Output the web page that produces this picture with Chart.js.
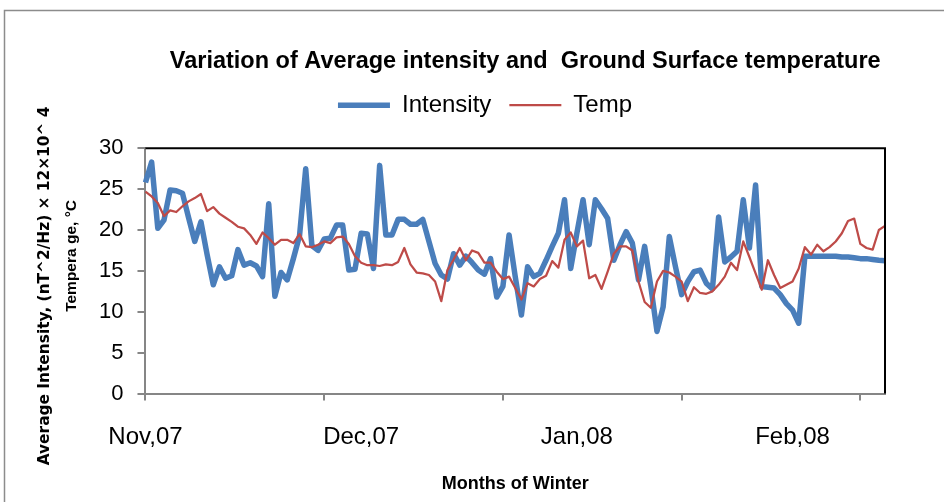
<!DOCTYPE html>
<html>
<head>
<meta charset="utf-8">
<script src="https://cdn.jsdelivr.net/npm/chart.js@4.4.0/dist/chart.umd.min.js"></script>
<style>
html, body { margin: 0; padding: 0; background: #fff; }
</style>
</head>
<body>
<canvas id="line-chart" width="944" height="502"></canvas>
<script>
// month names shown under the axis, one every labelEvery days
var monthLabels = ['Nov,07', 'Dec,07', 'Jan,08', 'Feb,08'];
var labelEvery = 35;
var tickEvery = 29;

var intensity = [25.8, 28.3, 20.2, 21.2, 24.9, 24.8, 24.5, 21.5, 18.6, 21.0,
                 17.0, 13.3, 15.5, 14.1, 14.4, 17.6, 15.7, 16.0, 15.6, 14.3,
                 23.2, 11.9, 14.8, 13.9, 16.5, 19.3, 27.5, 18.1, 17.5, 18.9,
                 19.0, 20.6, 20.6, 15.1, 15.2, 19.6, 19.5, 15.3, 27.9, 19.4,
                 19.4, 21.3, 21.3, 20.7, 20.7, 21.3, 18.6, 15.9, 14.5, 14.0,
                 17.1, 15.7, 16.8, 16.0, 15.1, 14.6, 16.5, 11.8, 13.1, 19.4,
                 14.3, 9.6, 15.5, 14.3, 14.7, 16.3, 18.0, 19.6, 23.7, 15.3,
                 19.6, 23.7, 18.2, 23.7, 22.6, 21.4, 16.3, 18.2, 19.8, 18.4,
                 13.9, 18.0, 13.1, 7.6, 10.6, 19.2, 15.5, 12.1, 13.7, 14.9,
                 15.1, 13.5, 12.8, 21.6, 16.1, 16.7, 17.4, 23.7, 17.8, 25.5,
                 13.1, 13.0, 12.9, 12.1, 11.0, 10.2, 8.6, 16.8, 16.8, 16.8,
                 16.8, 16.8, 16.8, 16.7, 16.7, 16.6, 16.5, 16.5, 16.4, 16.3,
                 16.25];

var temp = [24.7, 24.1, 23.3, 21.7, 22.4, 22.2, 22.9, 23.5, 23.9, 24.4,
            22.3, 22.8, 22.0, 21.5, 21.0, 20.4, 20.2, 19.4, 18.3, 19.7,
            19.0, 18.2, 18.8, 18.8, 18.4, 19.5, 18.0, 17.9, 18.2, 18.6,
            18.4, 19.1, 19.2, 18.3, 16.8, 16.0, 15.7, 15.7, 15.6, 15.8,
            15.7, 16.1, 17.8, 15.8, 14.8, 14.7, 14.5, 13.7, 11.3, 15.1,
            16.4, 17.8, 16.3, 17.5, 17.2, 16.0, 16.0, 14.9, 14.0, 14.3,
            12.9, 11.5, 13.5, 13.1, 14.0, 14.4, 16.2, 15.4, 18.8, 19.7,
            18.0, 18.7, 14.1, 14.5, 12.8, 14.9, 17.1, 18.0, 18.0, 17.5,
            13.7, 11.2, 10.5, 13.7, 15.0, 14.8, 14.3, 13.7, 11.3, 13.0,
            12.3, 12.2, 12.5, 13.3, 14.3, 16.0, 15.1, 18.6, 16.7, 14.7,
            12.7, 16.3, 14.5, 12.9, 13.3, 13.7, 15.3, 17.9, 17.0, 18.2,
            17.4, 17.9, 18.6, 19.6, 21.1, 21.4, 18.3, 17.8, 17.6, 20.0,
            20.5];

var yTitle = ['Average Intensity, (nT^2/Hz) \u00d7 12\u00d710^ 4', 'Tempera ge, \u00b0C'];

var days = intensity.map(function(v, i) {
    return i % labelEvery === 0 ? (monthLabels[i / labelEvery] || '') : '';
});

var txtFont = "'Liberation Sans', sans-serif";
var axisGray = '#868686';

// white page, black top/right plot border, gray outer frame, two-font y title
var frame = {
    id: 'frame',
    beforeLayout: function(chart) {
        var lg = chart.legend;
        if (lg && !lg._extra) {
            var fit = lg.fit;
            lg.fit = function() {
                fit.call(this);
                this.height += 21;
            };
            lg._extra = true;
        }
    },
    afterLayout: function(chart) {
        // Excel placed the title a little right of centre
        chart.titleBlock.left += 10;
        chart.titleBlock.right += 10;
    },
    beforeDraw: function(chart) {
        var ctx = chart.ctx;
        ctx.save();
        ctx.fillStyle = '#fff';
        ctx.fillRect(0, 0, chart.width, chart.height);
        ctx.restore();
    },
    afterDraw: function(chart) {
        var a = chart.chartArea, ctx = chart.ctx;
        var mid = (a.top + a.bottom) / 2;
        ctx.save();
        ctx.strokeStyle = '#000';
        ctx.lineWidth = 2;
        ctx.beginPath();
        ctx.moveTo(a.left, a.top);
        ctx.lineTo(a.right, a.top);
        ctx.lineTo(a.right, a.bottom);
        ctx.stroke();
        ctx.strokeStyle = '#8c8c8c';
        ctx.lineWidth = 1.5;
        ctx.strokeRect(4.5, 10.5, chart.width, chart.height);

        ctx.fillStyle = '#000';
        ctx.textAlign = 'center';
        ctx.textBaseline = 'middle';
        ctx.save();
        ctx.translate(45, mid + 15);
        ctx.rotate(-Math.PI / 2);
        ctx.font = "bold 15.4px 'DejaVu Sans', sans-serif";
        ctx.fillText(yTitle[0], 0, 0);
        ctx.restore();
        ctx.save();
        ctx.translate(72, mid - 15);
        ctx.rotate(-Math.PI / 2);
        ctx.font = "bold 15.5px 'Liberation Sans', sans-serif";
        ctx.fillText(yTitle[1], 0, 0);
        ctx.restore();
        ctx.restore();
    }
};

new Chart(document.getElementById('line-chart'), {
    type: 'line',
    data: {
        labels: days,
        datasets: [{
            label: 'Intensity',
            data: intensity,
            borderColor: '#4a7ebb',
            backgroundColor: '#4a7ebb',
            borderWidth: 5.5,
            pointRadius: 0,
            borderJoinStyle: 'round',
            tension: 0,
            fill: false,
            order: 1
        }, {
            label: 'Temp',
            data: temp,
            borderColor: '#be4b48',
            backgroundColor: '#be4b48',
            borderWidth: 2.25,
            pointRadius: 0,
            borderJoinStyle: 'round',
            tension: 0,
            fill: false,
            order: 0
        }]
    },
    options: {
        responsive: false,
        animation: false,
        layout: { padding: { left: 85, right: 59, top: 47, bottom: 7 } },
        plugins: {
            tooltip: { enabled: false },
            title: {
                display: true,
                fullSize: false,
                text: 'Variation of Average intensity and  Ground Surface temperature',
                color: '#000',
                font: { family: txtFont, size: 23.5, weight: 'bold', lineHeight: 1.2 },
                padding: { top: 0, bottom: 0 }
            },
            legend: {
                position: 'top',
                labels: {
                    usePointStyle: true,
                    pointStyle: 'line',
                    pointStyleWidth: 52,
                    color: '#000',
                    padding: 18,
                    font: { family: txtFont, size: 24 },
                    sort: function(a, b) { return a.datasetIndex - b.datasetIndex; }
                }
            }
        },
        scales: {
            x: {
                type: 'category',
                offset: false,
                border: { color: axisGray, width: 2 },
                grid: {
                    drawOnChartArea: false,
                    drawTicks: true,
                    tickLength: 7,
                    lineWidth: 2,
                    color: function(c) { return c.index % tickEvery === 0 ? axisGray : 'rgba(0,0,0,0)'; },
                    tickColor: function(c) { return c.index % tickEvery === 0 ? axisGray : 'rgba(0,0,0,0)'; }
                },
                ticks: {
                    autoSkip: false,
                    maxRotation: 0,
                    minRotation: 0,
                    padding: 22,
                    color: '#000',
                    font: { family: txtFont, size: 24 },
                    callback: function(v, i) { return days[i]; }
                },
                title: {
                    display: true,
                    text: 'Months of Winter',
                    color: '#000',
                    font: { family: txtFont, size: 18, weight: 'bold' },
                    padding: { top: 0, bottom: 0 }
                }
            },
            y: {
                min: 0,
                max: 30,
                border: { color: axisGray, width: 2 },
                grid: {
                    drawOnChartArea: false,
                    drawTicks: true,
                    tickLength: 8,
                    lineWidth: 2,
                    color: axisGray
                },
                ticks: {
                    stepSize: 5,
                    padding: 14,
                    color: '#000',
                    font: { family: txtFont, size: 22 }
                },
                title: { display: false }
            }
        }
    },
    plugins: [frame]
});
</script>
</body>
</html>
